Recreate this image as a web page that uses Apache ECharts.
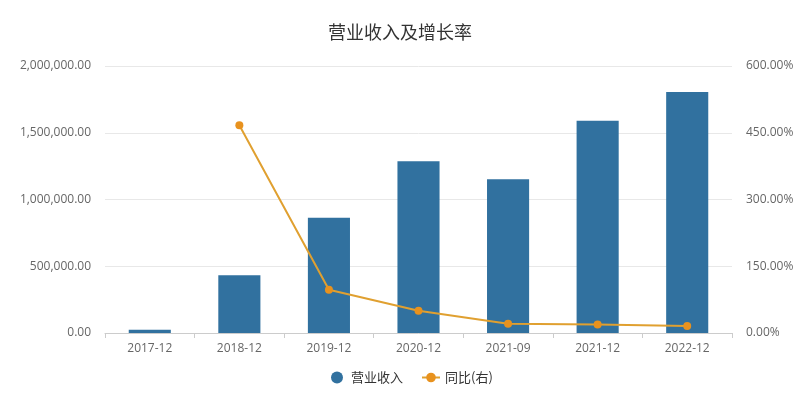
<!DOCTYPE html>
<html><head><meta charset="utf-8">
<script src="https://cdn.jsdelivr.net/npm/echarts@6/dist/echarts.min.js"></script>
<style>html,body{margin:0;padding:0;background:#fff}#c{width:800px;height:395px}</style>
</head><body><div id="c"></div>
<script>
const categories = ['2017-12','2018-12','2019-12','2020-12','2021-09','2021-12','2022-12'];
const revenue = [25000, 432000, 864000, 1287000, 1152000, 1590000, 1805000];
const growth = [null, 467, 97, 50, 21, 19, 16];
const leftTicks = {min: 0, max: 2000000, interval: 500000};
const rightTicks = {min: 0, max: 600, interval: 150};

const chart = echarts.init(document.getElementById('c'));
const fmtNum = v => v.toLocaleString('en-US', {minimumFractionDigits: 2, maximumFractionDigits: 2});
chart.setOption({
  animation: false,
  textStyle: {fontFamily: '"Open Sans", "Noto Sans CJK SC", sans-serif'},
  title: {text: '营业收入及增长率', left: 'center', top: 18,
    textStyle: {fontSize: 18, fontWeight: 'normal', color: '#333', fontFamily: '"Noto Sans CJK SC", sans-serif'}},
  legend: {bottom: 6, left: 326, itemGap: 18, itemWidth: 18, itemHeight: 12,
    textStyle: {fontSize: 13, color: '#333', fontFamily: '"Noto Sans CJK SC", sans-serif'},
    data: [{name: '营业收入', icon: 'circle'}, {name: '同比(右)'}]},
  grid: {left: 105, right: 68, top: 66, bottom: 62},
  xAxis: {type: 'category', data: categories,
    axisLine: {lineStyle: {color: '#ccc'}},
    axisTick: {show: true, lineStyle: {color: '#ccc'}},
    axisLabel: {color: '#666', fontSize: 12, margin: 10}},
  yAxis: [
    {type: 'value', min: leftTicks.min, max: leftTicks.max, interval: leftTicks.interval,
      axisLine: {show: false}, axisTick: {show: false},
      axisLabel: {color: '#666', fontSize: 12, margin: 14, formatter: fmtNum},
      splitLine: {lineStyle: {color: '#e8e8e8'}}},
    {type: 'value', min: rightTicks.min, max: rightTicks.max, interval: rightTicks.interval,
      axisLine: {show: false}, axisTick: {show: false},
      axisLabel: {color: '#666', fontSize: 12, margin: 14, formatter: v => v.toFixed(2) + '%'},
      splitLine: {show: false}}
  ],
  series: [
    {name: '营业收入', type: 'bar', data: revenue, barWidth: '47%',
      itemStyle: {color: '#31719f'}},
    {name: '同比(右)', type: 'line', yAxisIndex: 1, data: growth,
      symbol: 'circle', symbolSize: 8, connectNulls: false,
      lineStyle: {color: '#e0a030', width: 2},
      itemStyle: {color: '#e8921e'}}
  ]
});
</script></body></html>
